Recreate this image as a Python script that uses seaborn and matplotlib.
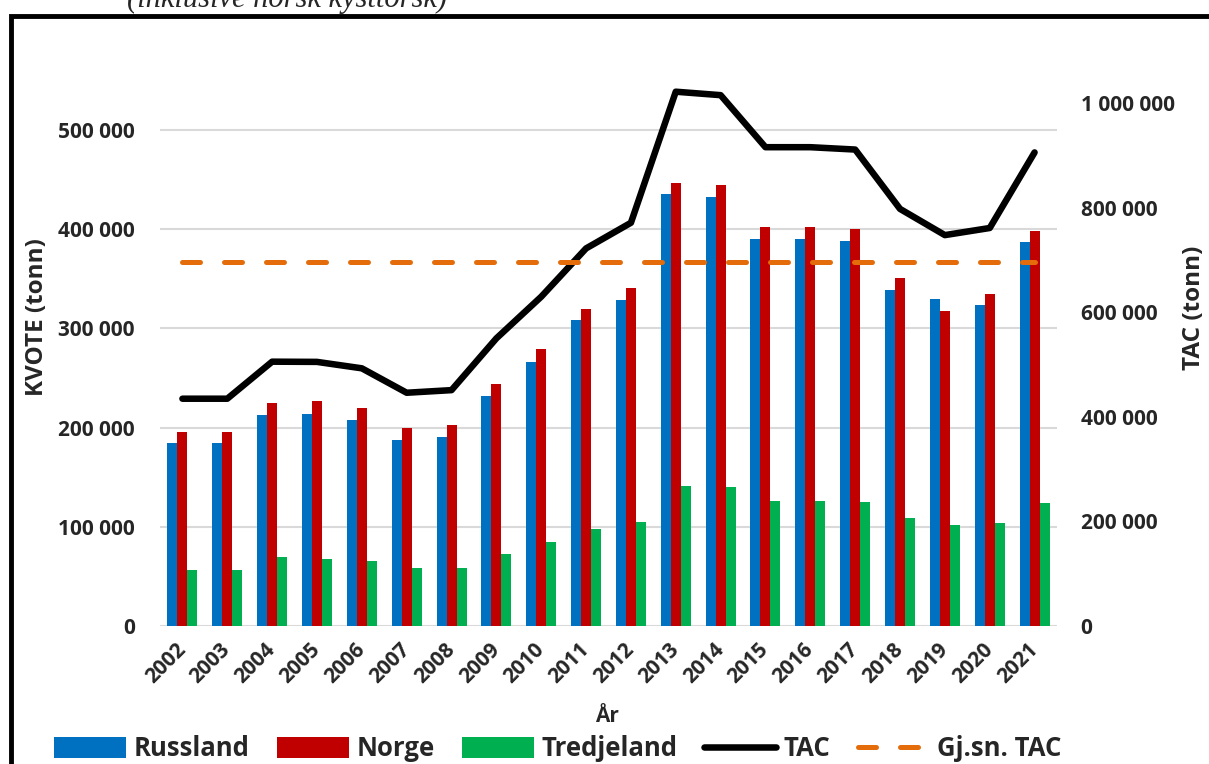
import numpy as np
import pandas as pd
import matplotlib
matplotlib.use('Agg')
import matplotlib.pyplot as plt
from matplotlib.patches import Rectangle
import seaborn as sns

years = [str(y) for y in range(2002, 2022)]
russland = [184500, 184500, 213000, 214000, 208000, 188000, 191000, 232000, 266500, 308500,
            328600, 435500, 432500, 390000, 390000, 388000, 339000, 329600, 323300, 387000]
norge = [196000, 196000, 225000, 226500, 220000, 200000, 203000, 244000, 279000, 320000,
         340700, 447000, 444600, 402000, 402000, 400400, 351000, 317300, 334900, 398500]
tredjeland = [56800, 56800, 69600, 67200, 65500, 58500, 58200, 72600, 84400, 98000,
              104800, 140800, 139700, 125600, 125600, 125500, 108900, 101800, 103600, 124400]
tac = [434600, 434600, 505400, 505000, 492700, 446000, 451000, 550000, 629600, 722000,
       771000, 1021600, 1015000, 915500, 915500, 911000, 797500, 747400, 761000, 905500]
gjsn_tac = [696600] * len(years)

series_names = ['Russland', 'Norge', 'Tredjeland']
colors = ['#0070C0', '#C00000', '#00B050']


def fmt(v):
    return f"{v:,.0f}".replace(",", " ")


def main():
    sns.set_style('white')
    plt.rcParams['font.family'] = ['Open Sans', 'DejaVu Sans']
    plt.rcParams['font.weight'] = 'bold'

    kvote = pd.DataFrame({'year': years * 3,
                          'kvote': russland + norge + tredjeland,
                          'land': [n for n in series_names for _ in years]})

    fig = plt.figure(figsize=(12.09, 7.64), dpi=100)
    ax = fig.add_axes([160 / 1209, 138 / 764, 897 / 1209, (626 - 70.5) / 764])

    sns.barplot(data=kvote, x='year', y='kvote', hue='land', palette=colors,
                width=0.67, gap=0, saturation=1, ax=ax, linewidth=0, legend=True)
    ax.set_ylim(0, 560000)
    ax.set_xlim(-0.5, len(years) - 0.5)
    ax.set_yticks(range(0, 500001, 100000))
    ax.set_yticklabels([fmt(v) for v in range(0, 500001, 100000)], fontsize=15, fontweight='bold')
    ax.set_xticks(range(len(years)))
    ax.set_xticklabels(years, rotation=45, ha='right', va='center', rotation_mode='anchor',
                       fontsize=15, fontweight='bold')
    ax.tick_params(axis='y', length=0, pad=18)
    ax.tick_params(axis='x', length=0, pad=15)
    ax.grid(axis='y', color='#D9D9D9', linewidth=1.5)
    ax.set_axisbelow(True)
    for s in ax.spines.values():
        s.set_visible(False)
    ax.set_xlabel('')
    ax.set_ylabel('')

    ax2 = ax.twinx()
    x = np.arange(len(years))
    sns.lineplot(x=x, y=tac, color='black', linewidth=4.7, ax=ax2, label='TAC')
    sns.lineplot(x=x, y=gjsn_tac, color='#E46C0A', linewidth=3.6, ax=ax2, label='Gj.sn. TAC',
                 linestyle=(0, (3.6, 4.8)), dash_capstyle='round')
    ax2.set_ylim(0, 560000 * 1.8967)
    ax2.set_yticks(range(0, 1000001, 200000))
    ax2.set_yticklabels([fmt(v) for v in range(0, 1000001, 200000)], fontsize=15, fontweight='bold')
    ax2.tick_params(axis='y', length=0, pad=17)
    for s in ax2.spines.values():
        s.set_visible(False)
    ax2.set_xlim(-0.5, len(years) - 0.5)

    fig.text(37 / 1209, 1 - 317 / 764, 'KVOTE (tonn)', rotation=90, ha='center', va='center',
             fontsize=17.5, fontweight='bold')
    fig.text(1194 / 1209, 1 - 308 / 764, 'TAC (tonn)', rotation=90, ha='center', va='center',
             fontsize=17.5, fontweight='bold')
    fig.text(607 / 1209, 1 - 717 / 764, 'År', ha='center', va='center', fontsize=15, fontweight='bold')
    fig.text(287 / 1209, 1 - 7.5 / 764, '(inklusive norsk kysttorsk)', ha='center', va='baseline',
             fontsize=22, style='italic', fontweight='normal', family='Liberation Serif')

    h1, l1 = ax.get_legend_handles_labels()
    h2, l2 = ax2.get_legend_handles_labels()
    if ax.get_legend():
        ax.get_legend().remove()
    if ax2.get_legend():
        ax2.get_legend().remove()
    fig.legend(h1 + h2, l1 + l2, loc='center', bbox_to_anchor=(558 / 1209, 1 - 749 / 764),
               ncol=5, frameon=False, prop={'size': 18.5, 'weight': 'bold'},
               handlelength=2.8, handleheight=0.9, handletextpad=0.3, columnspacing=1.05,
               borderpad=0, borderaxespad=0)

    fig.patches.append(Rectangle((11 / 1209, -0.1), 1.2, (764 - 15.5) / 764 + 0.1,
                                 transform=fig.transFigure, fill=False, lw=3.5, ec='black'))

    fig.savefig('out.png', dpi=100)


if __name__ == '__main__':
    main()
